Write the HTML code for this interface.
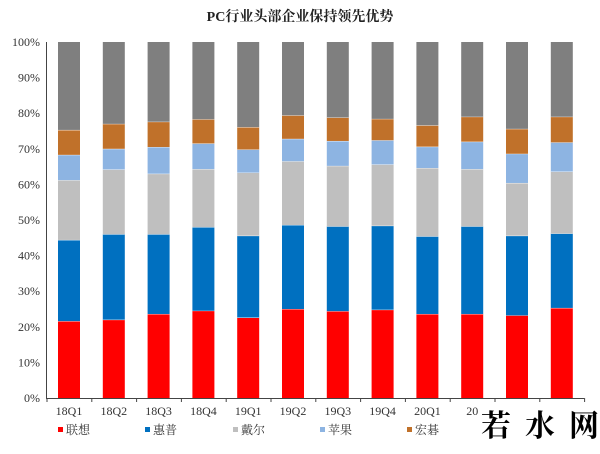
<!DOCTYPE html>
<html><head><meta charset="utf-8"><style>
body{margin:0;background:#fff;}
svg text{font-family:"Liberation Serif","Noto Serif CJK SC",serif;}
</style></head><body>
<svg width="600" height="449" xmlns="http://www.w3.org/2000/svg">
<text x="300" y="21" text-anchor="middle" font-size="14" font-weight="bold" fill="#222">PC行业头部企业保持领先优势</text>
<g id="y" font-size="12" fill="#333" text-anchor="end"></g>
<g id="bars"></g>
<line x1="46.5" y1="42" x2="46.5" y2="398" stroke="#444"/>
<line x1="46" y1="398.5" x2="584" y2="398.5" stroke="#444"/>
<g id="ticks" stroke="#444"></g>
<g id="xl" font-size="12" fill="#333" text-anchor="middle"></g>
<g font-size="12" fill="#333">
<rect x="58" y="427" width="5" height="5" fill="#ff0000"/><text x="66" y="434">联想</text>
<rect x="145" y="427" width="5" height="5" fill="#0070c0"/><text x="153" y="434">惠普</text>
<rect x="233" y="427" width="5" height="5" fill="#bfbfbf"/><text x="241" y="434">戴尔</text>
<rect x="320" y="427" width="5" height="5" fill="#8db4e2"/><text x="328" y="434">苹果</text>
<rect x="407" y="427" width="5" height="5" fill="#c0712a"/><text x="415" y="434">宏碁</text>
</g>
<text x="481" y="436" font-size="30" font-weight="bold" fill="#000" font-family="'Noto Sans CJK SC',sans-serif" letter-spacing="14">若水网</text>
</svg>
<script>
var d=[[21.6,44.4,61.2,68.3,75.3],[22,46,64.2,70,77],[23.6,46,63,70.5,77.6],[24.5,48,64.3,71.5,78.3],[22.6,45.6,63.3,69.8,76.1],[25,48.6,66.5,72.8,79.4],[24.4,48.2,65.2,72.2,78.8],[24.8,48.4,65.6,72.4,78.4],[23.6,45.4,64.6,70.6,76.6],[23.6,48.2,64.3,72,79],[23.2,45.6,60.4,68.6,75.6],[25.3,46.2,63.6,71.8,79]];
var c=["#ff0000","#0070c0","#bfbfbf","#8db4e2","#c0712a","#7f7f7f"];
var lb=["18Q1","18Q2","18Q3","18Q4","19Q1","19Q2","19Q3","19Q4","20Q1","20","",""];
var Y=function(p){return 398-p*3.56};
var s="";
d.forEach(function(r,i){var x=58+i*44.8;var prev=0;r.concat([100]).forEach(function(v,k){s+='<rect x="'+x+'" y="'+Y(v)+'" width="22" height="'+(Y(prev)-Y(v))+'" fill="'+c[k]+'"/>';if(k<5)s+='<line x1="'+x+'" x2="'+(x+22)+'" y1="'+Y(v)+'" y2="'+Y(v)+'" stroke="#fff" stroke-width="0.8"/>';prev=v;});});
document.getElementById("bars").innerHTML=s;
var y="";for(var p=0;p<=100;p+=10)y+='<text x="40" y="'+(Y(p)+4)+'">'+p+'%</text>';
document.getElementById("y").innerHTML=y;
var t="",xl="";for(var i=0;i<=12;i++){var x=47+i*44.8;t+='<line x1="'+x+'" x2="'+x+'" y1="398" y2="402"/>';}
lb.forEach(function(l,i){xl+='<text x="'+(69+i*44.8)+'" y="415">'+l+'</text>';});
document.getElementById("ticks").innerHTML=t;document.getElementById("xl").innerHTML=xl;
</script>
</body></html>
